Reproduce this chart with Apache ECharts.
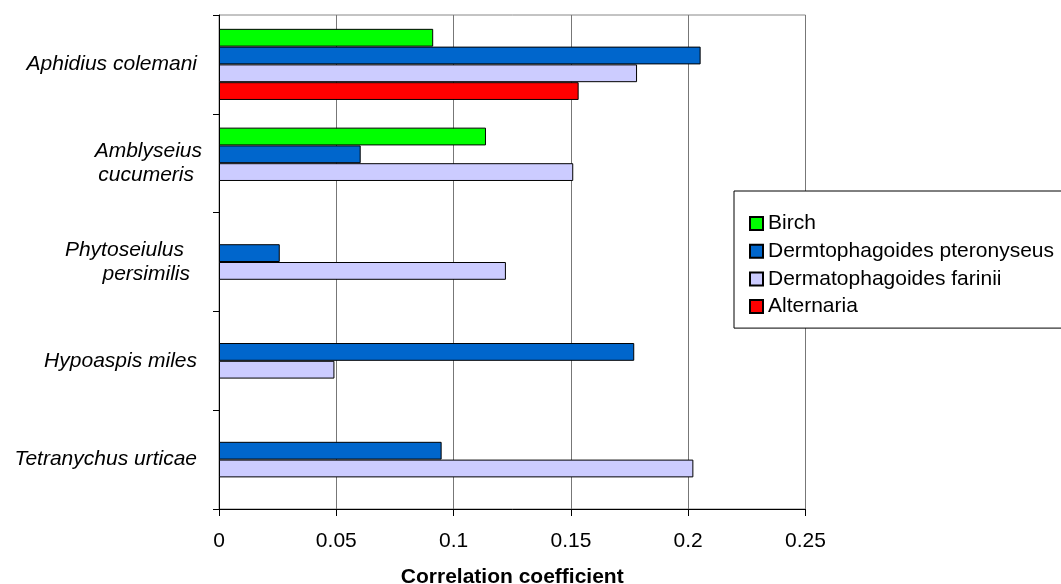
<!DOCTYPE html>
<html>
<head>
<meta charset="utf-8">
<script src="https://cdn.jsdelivr.net/npm/echarts@6/dist/echarts.min.js"></script>
<style>html,body{margin:0;padding:0;background:#fff;}#c{width:1061px;height:584px;}</style>
</head>
<body>
<div id="c"></div>
<script>
// Categories listed top to bottom
const categories = ['Aphidius colemani', 'Amblyseius cucumeris', 'Phytoseiulus persimilis', 'Hypoaspis miles', 'Tetranychus urticae'];
const seriesNames = ['Birch', 'Dermtophagoides pteronyseus', 'Dermatophagoides farinii', 'Alternaria'];
const birch = [0.0913, 0.1138, null, null, null];
const dermPteronyseus = [0.2053, 0.0604, 0.0259, 0.177, 0.0949];
const dermFarinii = [0.1782, 0.151, 0.1223, 0.0492, 0.2022];
const alternaria = [0.1533, null, null, null, null];
const xTicks = [0, 0.05, 0.1, 0.15, 0.2, 0.25];
const xTitle = 'Correlation coefficient';

const colors = ['#00FF00', '#0066CC', '#CCCCFF', '#FF0000'];
const values = [birch, dermPteronyseus, dermFarinii, alternaria];

const chart = echarts.init(document.getElementById('c'), null, {renderer: 'canvas'});
const option = {
  animation: false,
  backgroundColor: '#ffffff',
  textStyle: {fontFamily: 'Liberation Sans, Arial, sans-serif'},
  grid: {left: 219, top: 15, right: 255.5, bottom: 75, show: true, borderColor: '#888888', borderWidth: 1, containLabel: false, outerBoundsMode: 'none'},
  legend: {
    orient: 'vertical', left: 734, top: 191,
    data: seriesNames,
    icon: 'rect', itemWidth: 13, itemHeight: 13, itemGap: 6.7,
    padding: [22, 24, 11, 15],
    backgroundColor: '#ffffff', borderColor: '#000000', borderWidth: 1,
    textStyle: {fontSize: 21, color: '#000', lineHeight: 20, fontFamily: 'Liberation Sans, Arial, sans-serif'}
  },
  xAxis: {
    type: 'value', min: xTicks[0], max: xTicks[xTicks.length - 1], interval: xTicks[1] - xTicks[0],
    name: xTitle, nameLocation: 'middle', nameGap: 58,
    nameTextStyle: {fontSize: 21, fontWeight: 'bold', color: '#000'},
    axisLine: {show: true, lineStyle: {color: '#000', width: 1}},
    axisTick: {show: true, inside: false, length: 7, lineStyle: {color: '#000'}},
    axisLabel: {fontSize: 21, color: '#000', margin: 22},
    splitLine: {show: true, lineStyle: {color: '#777777', width: 1}}
  },
  yAxis: {
    type: 'category', data: categories, inverse: true,
    axisLine: {show: true, lineStyle: {color: '#000', width: 1}},
    axisTick: {show: true, inside: false, length: 6, alignWithLabel: false, lineStyle: {color: '#000'}},
    splitLine: {show: false},
    axisLabel: {
      margin: 17, color: '#000', fontSize: 21,
      formatter: function (v) {
        if (v === 'Amblyseius cucumeris') return '{a0|Amblyseius}\n{a1|cucumeris}';
        if (v === 'Phytoseiulus persimilis') return '{p0|Phytoseiulus}\n{p1|persimilis}';
        return '{s|' + v + '}';
      },
      rich: {
        s: {fontSize: 21, fontStyle: 'italic', color: '#000', padding: [0, 5, 0, 0], lineHeight: 24},
        a0: {fontSize: 21, fontStyle: 'italic', color: '#000', padding: [0, 0, 0, 0], lineHeight: 24, align: 'right'},
        a1: {fontSize: 21, fontStyle: 'italic', color: '#000', padding: [0, 8, 0, 0], lineHeight: 24, align: 'right'},
        p0: {fontSize: 21, fontStyle: 'italic', color: '#000', padding: [0, 18, 0, 0], lineHeight: 24, align: 'right'},
        p1: {fontSize: 21, fontStyle: 'italic', color: '#000', padding: [0, 12, 0, 0], lineHeight: 24, align: 'right'}
      }
    }
  },
  series: seriesNames.map(function (name, i) {
    return {
      name: name, type: 'bar', data: values[i],
      barGap: '0%', barCategoryGap: '28%',
      itemStyle: {color: colors[i], borderColor: '#000', borderWidth: 1}
    };
  })
};
chart.setOption(option);
</script>
</body>
</html>
